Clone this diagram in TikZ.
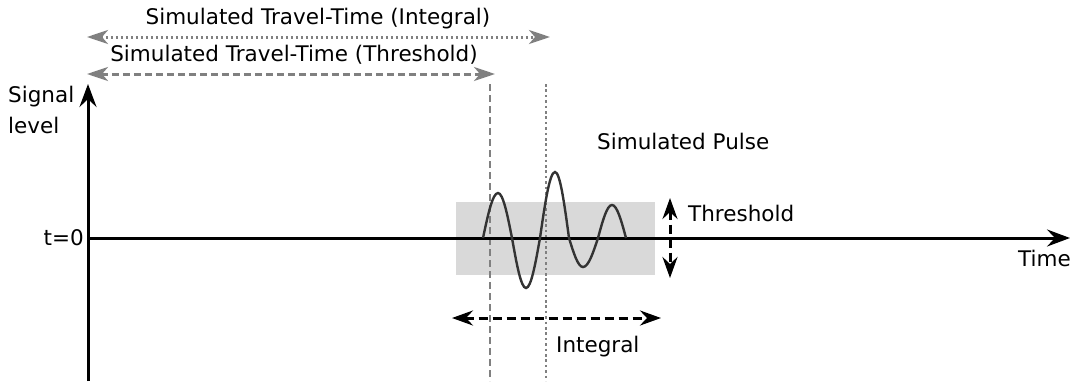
\documentclass[tikz,border=0pt]{standalone}
\usepackage{fontspec}
\setmainfont{DejaVu Sans}
\usetikzlibrary{arrows.meta}
\definecolor{guide}{HTML}{808080}
\definecolor{boxfill}{HTML}{D9D9D9}
\definecolor{wave}{HTML}{333333}
\begin{document}
\begin{tikzpicture}[x=1pt,y=-1pt,
  lbl/.style={font=\fontsize{21.5}{24}\selectfont, inner sep=0pt},
  bigtip/.tip={Stealth[length=23pt,width=17pt,inset=8pt]},
  midtip/.tip={Stealth[length=21pt,width=15pt,inset=7pt]},
  graytip/.tip={Stealth[length=21pt,width=14pt,inset=6pt]},
  axis/.style={line width=3pt, -bigtip},
  blackdash/.style={line width=3pt, dash pattern=on 9pt off 5pt, midtip-midtip},
  grayarrow/.style={draw=guide, line width=3pt, graytip-graytip},
  guideline/.style={draw=guide, line width=2.6pt}]
\useasboundingbox (0,0) rectangle (1082,381);
% coordinates
\coordinate (yb) at (88,381);
\coordinate (yt) at (88,84);
\coordinate (xl) at (88,238);
\coordinate (xr) at (1070,238);
\coordinate (thA) at (490,84);
\coordinate (thB) at (490,381);
\coordinate (inA) at (546,84);
\coordinate (inB) at (546,381);
% box
\fill[boxfill] (456,202) rectangle (655,275);
% guide lines
\draw[guideline, dash pattern=on 7pt off 4pt] (thA) -- (thB);
\draw[guideline, dash pattern=on 2.6pt off 2.8pt] (inA) -- (inB);
% axes
\draw[axis] (yb) -- (yt);
\draw[axis] (xl) -- (xr);
% wave
\draw[wave, line width=2.4pt] (483,238) sin (498,193) cos (512,238) sin (526,288) cos (540,238) sin (555,172) cos (569,238) sin (583,267) cos (598,238) sin (612,205) cos (626,238);
% threshold & integral arrows
\coordinate (tA) at (670,198);
\coordinate (tB) at (670,278);
\draw[blackdash] (tA) -- (tB);
\coordinate (iA) at (452,318);
\coordinate (iB) at (661,318);
\draw[blackdash] (iA) -- (iB);
% top travel-time arrows
\coordinate (ttiA) at (87,37);
\coordinate (ttiB) at (550,37);
\draw[grayarrow, dash pattern=on 2.6pt off 2.4pt] (ttiA) -- (ttiB);
\coordinate (tttA) at (87,74);
\coordinate (tttB) at (495,74);
\draw[grayarrow, dash pattern=on 7pt off 4pt] (tttA) -- (tttB);
% labels
\node[lbl] (l1) at (318,19) {Simulated Travel-Time (Integral)};
\node[lbl] (l2) at (294,55) {Simulated Travel-Time (Threshold)};
\node[lbl, anchor=west] (l3) at (8,97) {Signal};
\node[lbl, anchor=west] (l4) at (8,125) {level};
\node[lbl, anchor=east] (l5) at (84,238) {t=0};
\node[lbl, anchor=east] (l6) at (1071,258) {Time};
\node[lbl, anchor=west] (l7) at (597,141) {Simulated Pulse};
\node[lbl, anchor=west] (l8) at (688,213) {Threshold};
\node[lbl, anchor=west] (l9) at (556,347) {Integral};
\end{tikzpicture}
\end{document}
